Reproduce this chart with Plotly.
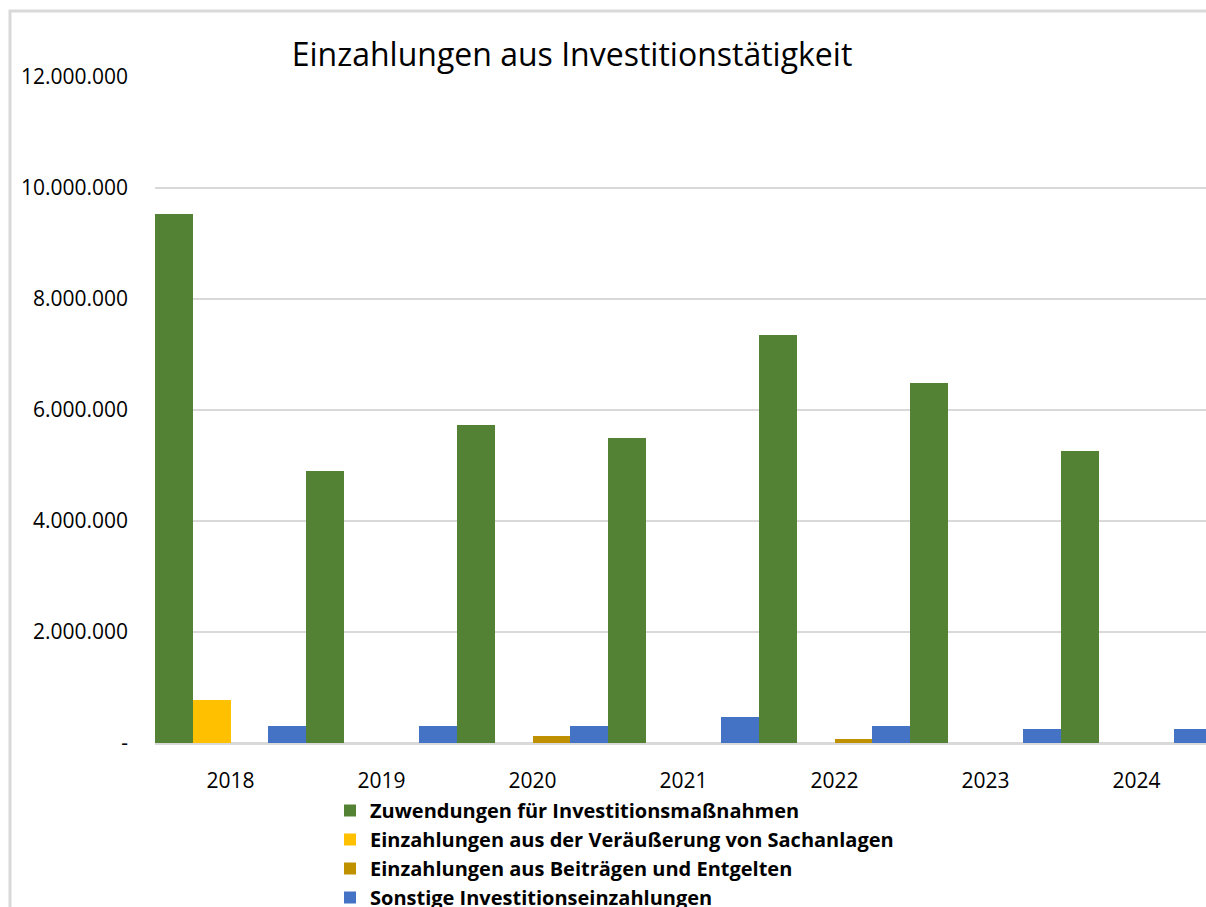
import plotly.graph_objects as go

years = ["2018", "2019", "2020", "2021", "2022", "2023", "2024"]
zuwendungen = [9530000, 4900000, 5730000, 5500000, 7350000, 6490000, 5260000]
veraeusserung = [770000, 0, 0, 0, 0, 0, 0]
beitraege = [0, 0, 120000, 0, 67000, 0, 0]
sonstige = [306000, 310000, 305000, 470000, 305000, 250000, 250000]

series_names = [
    "Zuwendungen für Investitionsmaßnahmen",
    "Einzahlungen aus der Veräußerung von Sachanlagen",
    "Einzahlungen aus Beiträgen und Entgelten",
    "Sonstige Investitionseinzahlungen",
]
series_values = [zuwendungen, veraeusserung, beitraege, sonstige]
series_colors = ["#548235", "#FFC000", "#BF9000", "#4472C4"]

y_tickvals = [0, 2000000, 4000000, 6000000, 8000000, 10000000, 12000000]
y_ticktext = ["-", "2.000.000", "4.000.000", "6.000.000", "8.000.000", "10.000.000", "12.000.000"]

W, H = 1206, 907
L, R, T, B = 155, 0, 77, 164

fig = go.Figure()
for name, vals, col in zip(series_names, series_values, series_colors):
    fig.add_trace(go.Bar(x=years, y=vals, name=name, marker_color=col,
                         marker_line_width=0))

pw = W - L - R
ph = H - T - B

def px2x(px):
    return (px - L) / pw

def py2y(py):
    return (H - B - py) / ph

fig.add_shape(type="rect", xref="paper", yref="paper",
              x0=px2x(10), x1=px2x(1230), y0=py2y(11), y1=py2y(1000),
              line=dict(color="#d9d9d9", width=3), fillcolor="rgba(0,0,0,0)",
              layer="below")

fig.update_layout(
    width=W, height=H,
    margin=dict(l=L, r=R, t=T, b=B, pad=0, autoexpand=False),
    paper_bgcolor="white", plot_bgcolor="white",
    barmode="group", bargap=0, bargroupgap=0,
    font=dict(family="Open Sans", color="#000000"),
    title=dict(text="Einzahlungen aus Investitionstätigkeit",
               x=572 / W, xanchor="center",
               y=1 - 55 / H, yanchor="middle",
               font=dict(size=32, family="Open Sans", color="#000000")),
    showlegend=True,
    legend=dict(orientation="v", x=px2x(330), xanchor="left",
                y=py2y(791), yanchor="top",
                font=dict(size=20, family="Open Sans", color="#000000", weight="bold"),
                bgcolor="rgba(0,0,0,0)", tracegroupgap=0, itemclick=False),
    xaxis=dict(range=[-0.5, 6.5 - 6 / 151], showgrid=False, showline=False,
               ticks="", tickfont=dict(size=21, color="#000000"),
               ticklabelstandoff=23, zeroline=False),
    yaxis=dict(range=[0, 12000000], tickvals=y_tickvals, ticktext=y_ticktext,
               showgrid=True, gridcolor="#d9d9d9", gridwidth=1.5,
               zeroline=True, zerolinecolor="#d9d9d9", zerolinewidth=2.5,
               showline=False, ticks="", tickfont=dict(size=21, color="#000000"),
               ticklabelstandoff=26),
)

fig.write_html("out.html", config={"displayModeBar": False},
               post_script="document.body.style.margin='0';document.body.style.overflow='hidden';")
